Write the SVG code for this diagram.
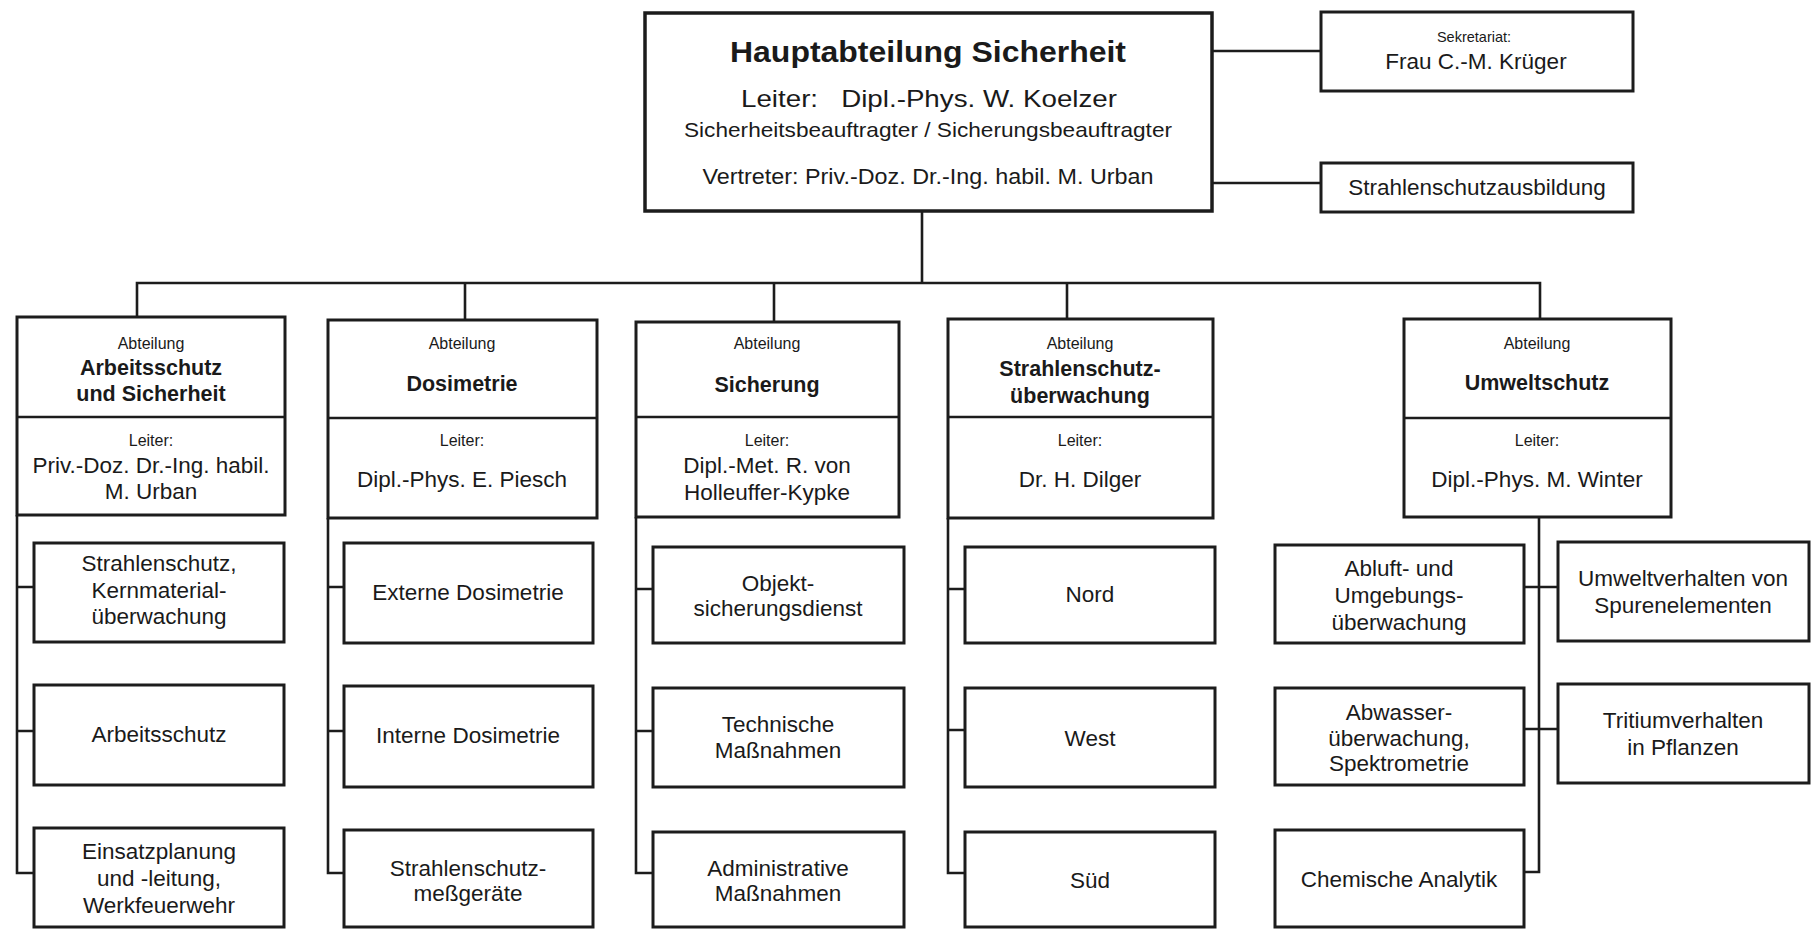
<svg xmlns="http://www.w3.org/2000/svg" width="1820" height="929" viewBox="0 0 1820 929">
  <style>
    .box { fill: #ffffff; stroke: #1c1c1c; stroke-width: 3; }
    .main { stroke-width: 3.5; }
    .ln { fill: none; stroke: #1c1c1c; stroke-width: 2.6; }
    text { font-family: "Liberation Sans", Arial, Helvetica, sans-serif; fill: #1a1a1a; text-anchor: middle; }
    .b { font-weight: bold; }
    .xs { font-size: 16px; }
    .sm { font-size: 22.5px; }
    .nm { font-size: 22.5px; }
    .hd { font-size: 21.5px; font-weight: bold; }
  </style>
  <rect width="1820" height="929" fill="#ffffff"/>

  <!-- connectors -->
  <g id="connectors" class="ln">
    <path d="M1212,51 H1321"/>
    <path d="M1212,183 H1321"/>
    <path d="M922,211 V283"/>
    <path d="M137,317 V283 H1540 V319"/>
    <path d="M465,283 V320"/>
    <path d="M774,283 V322"/>
    <path d="M1067,283 V319"/>
    <path d="M17,515 V873 H34 M17,587 H34 M17,731 H34"/>
    <path d="M328,518 V873 H344 M328,587 H344 M328,731 H344"/>
    <path d="M636,517 V873 H653 M636,589 H653 M636,731 H653"/>
    <path d="M948,518 V873 H965 M948,589 H965 M948,730 H965"/>
    <path d="M1539,517 V872 H1524 M1524,587 H1558 M1524,729 H1558"/>
  </g>

  <!-- head of department -->
  <g id="hauptabteilung">
    <rect class="box main" x="645" y="13" width="567" height="198"/>
    <text x="928" y="62" class="b" font-size="30" textLength="396" lengthAdjust="spacingAndGlyphs">Hauptabteilung Sicherheit</text>
    <text x="929" y="107" font-size="24" textLength="376" lengthAdjust="spacingAndGlyphs">Leiter:&#160;&#160; Dipl.-Phys. W. Koelzer</text>
    <text x="928" y="137" font-size="21" textLength="488" lengthAdjust="spacingAndGlyphs">Sicherheitsbeauftragter / Sicherungsbeauftragter</text>
    <text x="928" y="184" font-size="22" textLength="451" lengthAdjust="spacingAndGlyphs">Vertreter: Priv.-Doz. Dr.-Ing. habil. M. Urban</text>
  </g>

  <g id="sekretariat">
    <rect class="box" x="1321" y="12" width="312" height="79"/>
    <text x="1474" y="42" font-size="14.5">Sekretariat:</text>
    <text x="1476" y="69" font-size="22.5">Frau C.-M. Krüger</text>
  </g>

  <g id="ausbildung">
    <rect class="box" x="1321" y="163" width="312" height="49"/>
    <text x="1477" y="195" font-size="22.5">Strahlenschutzausbildung</text>
  </g>

  <!-- departments -->
  <g id="abt-arbeitsschutz">
    <rect class="box" x="17" y="317" width="268" height="198"/>
    <path class="ln" d="M17,417 H285"/>
    <text x="151" y="349" class="xs">Abteilung</text>
    <text x="151" y="375" class="hd">Arbeitsschutz</text>
    <text x="151" y="401" class="hd">und Sicherheit</text>
    <text x="151" y="446" class="xs">Leiter:</text>
    <text x="151" y="473" class="nm">Priv.-Doz. Dr.-Ing. habil.</text>
    <text x="151" y="499" class="nm">M. Urban</text>
  </g>

  <g id="abt-dosimetrie">
    <rect class="box" x="328" y="320" width="269" height="198"/>
    <path class="ln" d="M328,418 H597"/>
    <text x="462" y="349" class="xs">Abteilung</text>
    <text x="462" y="391" class="hd">Dosimetrie</text>
    <text x="462" y="446" class="xs">Leiter:</text>
    <text x="462" y="487" class="nm">Dipl.-Phys. E. Piesch</text>
  </g>

  <g id="abt-sicherung">
    <rect class="box" x="636" y="322" width="263" height="195"/>
    <path class="ln" d="M636,417 H899"/>
    <text x="767" y="349" class="xs">Abteilung</text>
    <text x="767" y="392" class="hd">Sicherung</text>
    <text x="767" y="446" class="xs">Leiter:</text>
    <text x="767" y="473" class="nm">Dipl.-Met. R. von</text>
    <text x="767" y="500" class="nm">Holleuffer-Kypke</text>
  </g>

  <g id="abt-strahlenschutzueberwachung">
    <rect class="box" x="948" y="319" width="265" height="199"/>
    <path class="ln" d="M948,417 H1213"/>
    <text x="1080" y="349" class="xs">Abteilung</text>
    <text x="1080" y="376" class="hd">Strahlenschutz-</text>
    <text x="1080" y="403" class="hd">überwachung</text>
    <text x="1080" y="446" class="xs">Leiter:</text>
    <text x="1080" y="487" class="nm">Dr. H. Dilger</text>
  </g>

  <g id="abt-umweltschutz">
    <rect class="box" x="1404" y="319" width="267" height="198"/>
    <path class="ln" d="M1404,418 H1671"/>
    <text x="1537" y="349" class="xs">Abteilung</text>
    <text x="1537" y="390" class="hd">Umweltschutz</text>
    <text x="1537" y="446" class="xs">Leiter:</text>
    <text x="1537" y="487" class="nm">Dipl.-Phys. M. Winter</text>
  </g>

  <!-- sections: Arbeitsschutz und Sicherheit -->
  <g id="strahlenschutz-kernmaterial">
    <rect class="box" x="34" y="543" width="250" height="99"/>
    <text x="159" y="571" class="sm">Strahlenschutz,</text>
    <text x="159" y="598" class="sm">Kernmaterial-</text>
    <text x="159" y="624" class="sm">überwachung</text>
  </g>
  <g id="arbeitsschutz">
    <rect class="box" x="34" y="685" width="250" height="100"/>
    <text x="159" y="742" class="sm">Arbeitsschutz</text>
  </g>
  <g id="einsatzplanung">
    <rect class="box" x="34" y="828" width="250" height="99"/>
    <text x="159" y="859" class="sm">Einsatzplanung</text>
    <text x="159" y="886" class="sm">und -leitung,</text>
    <text x="159" y="913" class="sm">Werkfeuerwehr</text>
  </g>

  <!-- sections: Dosimetrie -->
  <g id="externe-dosimetrie">
    <rect class="box" x="344" y="543" width="249" height="100"/>
    <text x="468" y="600" class="sm">Externe Dosimetrie</text>
  </g>
  <g id="interne-dosimetrie">
    <rect class="box" x="344" y="686" width="249" height="101"/>
    <text x="468" y="743" class="sm">Interne Dosimetrie</text>
  </g>
  <g id="messgeraete">
    <rect class="box" x="344" y="830" width="249" height="97"/>
    <text x="468" y="876" class="sm">Strahlenschutz-</text>
    <text x="468" y="901" class="sm">meßgeräte</text>
  </g>

  <!-- sections: Sicherung -->
  <g id="objektsicherungsdienst">
    <rect class="box" x="653" y="547" width="251" height="96"/>
    <text x="778" y="591" class="sm">Objekt-</text>
    <text x="778" y="616" class="sm">sicherungsdienst</text>
  </g>
  <g id="technische-massnahmen">
    <rect class="box" x="653" y="688" width="251" height="99"/>
    <text x="778" y="732" class="sm">Technische</text>
    <text x="778" y="758" class="sm">Maßnahmen</text>
  </g>
  <g id="administrative-massnahmen">
    <rect class="box" x="653" y="832" width="251" height="95"/>
    <text x="778" y="876" class="sm">Administrative</text>
    <text x="778" y="901" class="sm">Maßnahmen</text>
  </g>

  <!-- sections: Strahlenschutzüberwachung -->
  <g id="nord">
    <rect class="box" x="965" y="547" width="250" height="96"/>
    <text x="1090" y="602" class="sm">Nord</text>
  </g>
  <g id="west">
    <rect class="box" x="965" y="688" width="250" height="99"/>
    <text x="1090" y="746" class="sm">West</text>
  </g>
  <g id="sued">
    <rect class="box" x="965" y="832" width="250" height="95"/>
    <text x="1090" y="888" class="sm">Süd</text>
  </g>

  <!-- sections: Umweltschutz -->
  <g id="abluft">
    <rect class="box" x="1275" y="545" width="249" height="98"/>
    <text x="1399" y="576" class="sm">Abluft- und</text>
    <text x="1399" y="603" class="sm">Umgebungs-</text>
    <text x="1399" y="630" class="sm">überwachung</text>
  </g>
  <g id="abwasser">
    <rect class="box" x="1275" y="688" width="249" height="97"/>
    <text x="1399" y="720" class="sm">Abwasser-</text>
    <text x="1399" y="746" class="sm">überwachung,</text>
    <text x="1399" y="771" class="sm">Spektrometrie</text>
  </g>
  <g id="chemische-analytik">
    <rect class="box" x="1275" y="830" width="249" height="97"/>
    <text x="1399" y="887" class="sm">Chemische Analytik</text>
  </g>
  <g id="spurenelemente">
    <rect class="box" x="1558" y="542" width="251" height="99"/>
    <text x="1683" y="586" class="sm">Umweltverhalten von</text>
    <text x="1683" y="613" class="sm">Spurenelementen</text>
  </g>
  <g id="tritium">
    <rect class="box" x="1558" y="684" width="251" height="99"/>
    <text x="1683" y="728" class="sm">Tritiumverhalten</text>
    <text x="1683" y="755" class="sm">in Pflanzen</text>
  </g>
</svg>
